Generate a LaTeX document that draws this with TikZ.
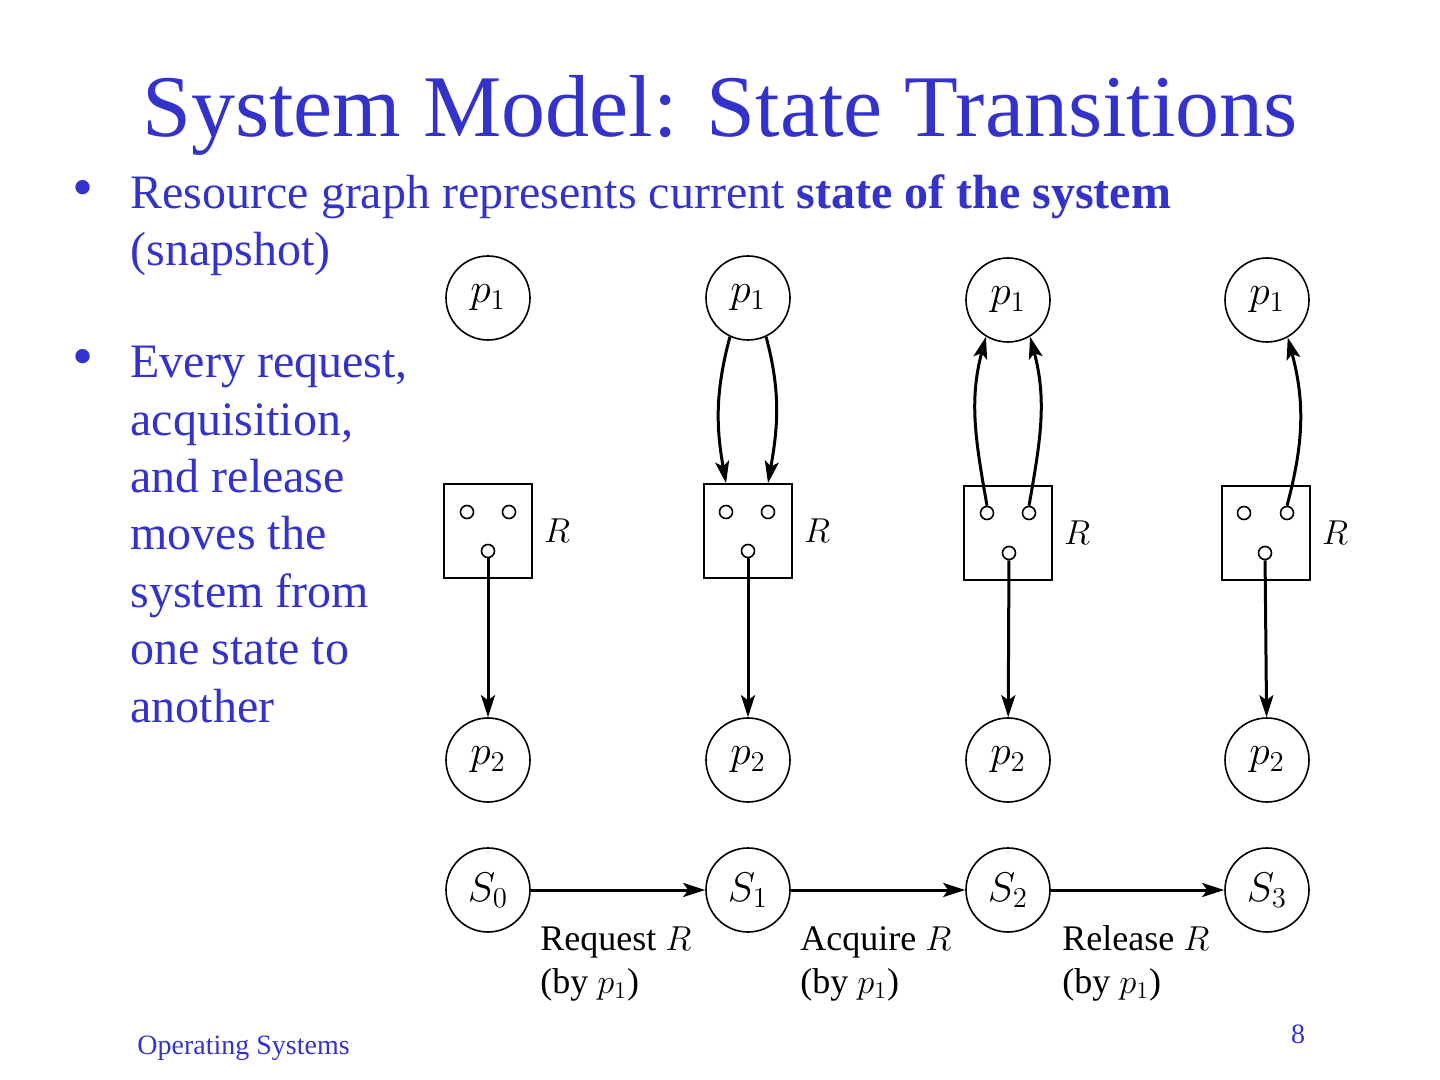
\documentclass[tikz,border=0pt]{standalone}
\usepackage{fontspec}
\setmainfont{Liberation Serif}
\usetikzlibrary{arrows.meta,positioning}
\definecolor{slideblue}{RGB}{51,51,204}

\begin{document}
\begin{tikzpicture}[x=0.5pt,y=-0.5pt,
  proc/.style={circle,draw,line width=0.8pt,minimum size=42pt,inner sep=0pt,
    font=\fontsize{21}{23}\selectfont},
  resbox/.style={draw,line width=0.8pt,minimum width=44pt,minimum height=47pt,inner sep=0pt},
  unit/.style={circle,draw,line width=0.8pt,minimum size=6.5pt,inner sep=0pt},
  conn/.style={line width=1.5pt,-{Stealth[length=11pt,width=7pt,inset=2.5pt]}},
  lbl/.style={font=\fontsize{18}{21.5}\selectfont,align=left,inner sep=0pt},
  btext/.style={text=slideblue,font=\fontsize{24}{28.7}\selectfont,align=left,inner sep=0pt},
  bmark/.style={text=slideblue,font=\fontsize{30}{32}\selectfont,inner sep=0pt}]
  \useasboundingbox (0,0) rectangle (1440,1080);
  % 1. title and the two bullets
  \node[text=slideblue,font=\fontsize{44}{50}\selectfont,anchor=base] (title) at (720,137)
    {System Model: State Transitions};
  \node[btext,anchor=base west] (bulA) at (130,266)
    {Resource graph represents current \textbf{state of the system}\\(snapshot)};
  \node[bmark] (dotA) at (83,194) {\textbullet};
  \node[btext,anchor=base west] (bulB) at (130,722)
    {Every request,\\acquisition,\\and release\\moves the\\system from\\one state to\\another};
  \node[bmark] (dotB) at (83,363) {\textbullet};
  % 2. processes p1 (top row)
  \node[proc] (P1A) at (488,298) {$p_1$};
  \node[proc] (P1B) at (748,298) {$p_1$};
  \node[proc] (P1C) at (1008,300) {$p_1$};
  \node[proc] (P1D) at (1267,300) {$p_1$};
  % 3. resource R with its two units and its holder port
  \node[resbox] (RA) at (488,531) {};
  \node[resbox] (RB) at (748,531) {};
  \node[resbox] (RC) at (1008,533) {};
  \node[resbox] (RD) at (1266,533) {};
  \node[lbl,right=5.5pt of RA] (RlA) {$R$};
  \node[lbl,right=5.5pt of RB] (RlB) {$R$};
  \node[lbl,right=5.5pt of RC] (RlC) {$R$};
  \node[lbl,right=5.5pt of RD] (RlD) {$R$};
  \node[unit] (RAl) at (467,512) {};
  \node[unit] (RAr) at (509,512) {};
  \node[unit] (RAb) at (488,551) {};
  \node[unit] (RBl) at (726,512) {};
  \node[unit] (RBr) at (768,512) {};
  \node[unit] (RBb) at (748,551) {};
  \node[unit] (RCl) at (987,513) {};
  \node[unit] (RCr) at (1029,513) {};
  \node[unit] (RCb) at (1009,553) {};
  \node[unit] (RDl) at (1244,513) {};
  \node[unit] (RDr) at (1287,513) {};
  \node[unit] (RDb) at (1265,553) {};
  % 4. processes p2 (bottom row)
  \node[proc] (P2A) at (488,760) {$p_2$};
  \node[proc] (P2B) at (748,760) {$p_2$};
  \node[proc] (P2C) at (1008,760) {$p_2$};
  \node[proc] (P2D) at (1267,760) {$p_2$};
  % R is held by p2 in every state
  \draw[conn] (RAb) -- (P2A);
  \draw[conn] (RBb) -- (P2B);
  \draw[conn] (RCb) -- (P2C);
  \draw[conn] (RDb) -- (P2D);
  % p1 requests two units
  \draw[conn] (P1B.245) to[out=255,in=100] (RB.north -| RBl);
  \draw[conn] (P1B.295) to[out=285,in=80] (RB.north -| RBr);
  % p1 holds two units
  \draw[conn] (RCl.north) to[out=100,in=255] (P1C.239);
  \draw[conn] (RCr.north) to[out=80,in=285] (P1C.301);
  % p1 gives one back
  \draw[conn] (RDr.north) to[out=75,in=285] (P1D.299);
  % 5. the state sequence
  \node[proc] (S0) at (488,890) {$S_0$};
  \node[proc] (S1) at (748,890) {$S_1$};
  \node[proc] (S2) at (1008,890) {$S_2$};
  \node[proc] (S3) at (1267,890) {$S_3$};
  \draw[conn] (S0) -- (S1);
  \draw[conn] (S1) -- (S2);
  \draw[conn] (S2) -- (S3);
  \node[lbl,anchor=base west] (reqlbl) at (540,993) {Request $R$\\(by $p_1$)};
  \node[lbl,anchor=base west] (acqlbl) at (800,993) {Acquire $R$\\(by $p_1$)};
  \node[lbl,anchor=base west] (rellbl) at (1062,993) {Release $R$\\(by $p_1$)};
  % footer
  \node[text=slideblue,font=\fontsize{14}{16}\selectfont,inner sep=0pt,anchor=base west] (foot)
    at (137,1054) {Operating Systems};
  \node[text=slideblue,font=\fontsize{14}{16}\selectfont,anchor=base] (pagenum) at (1298,1043) {8};
\end{tikzpicture}
\end{document}
